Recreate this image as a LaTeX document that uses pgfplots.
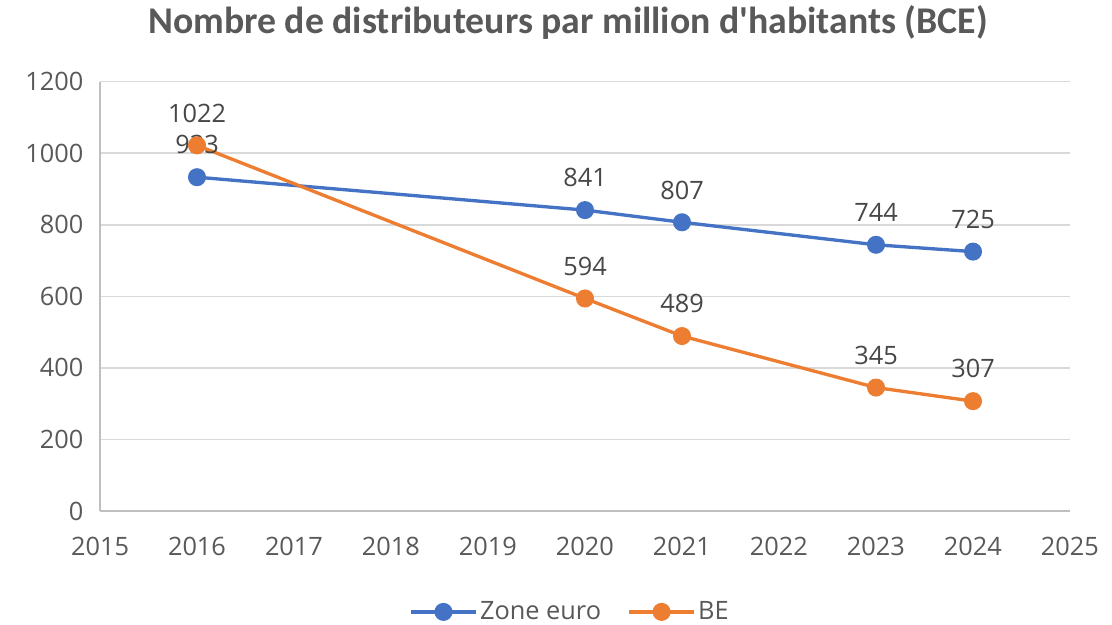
\documentclass[border=0pt]{standalone}
\usepackage{fontspec}
\setmainfont{Open Sans}
\newfontfamily\titlefont{Carlito}
\usepackage{pgfplots}
\pgfplotsset{compat=1.18}
\definecolor{zblue}{HTML}{4472C4}
\definecolor{zorange}{HTML}{ED7D31}
\definecolor{txtgray}{HTML}{595959}
\definecolor{gridgray}{HTML}{D9D9D9}
\definecolor{axgray}{HTML}{BFBFBF}

\begin{document}
\begin{tikzpicture}
\path[use as bounding box, fill=white] (0,0) rectangle (834pt,468pt);
\begin{axis}[
  at={(75pt,84.75pt)}, anchor=south west,
  scale only axis, width=727.5pt, height=322pt,
  xmin=2015, xmax=2025, ymin=0, ymax=1200,
  xtick={2015,...,2025}, ytick={0,200,...,1200},
  /pgf/number format/assume math mode=true,
  xticklabel style={/pgf/number format/1000 sep={}},
  yticklabel style={/pgf/number format/1000 sep={}},
  tick label style={font=\fontsize{19}{21}\selectfont, text=txtgray},
  major tick length=0pt,
  xticklabel shift=16pt, yticklabel shift=9pt,
  axis lines=left,
  axis line style={draw=axgray, line width=1.2pt, -},
  ymajorgrids, grid style={draw=gridgray, line width=1.2pt},
  legend columns=2,
  legend style={at={(0.485,-0.235)}, anchor=center, draw=none,
    font=\fontsize{19}{21}\selectfont, text=txtgray,
    /tikz/every even column/.append style={column sep=18pt}},
  legend image code/.code={
    \draw[#1, mark=none] (0cm,0cm) -- (1.7cm,0cm);
    \draw[#1, only marks] plot coordinates {(0.85cm,0cm)};
  },
  nodes near coords,
  every node near coord/.append style={anchor=south, inner sep=0pt, yshift=16pt,
    font=\fontsize{19}{21}\selectfont, text=txtgray!80!black},
  nodes near coords style={/pgf/number format/1000 sep={}},
]
\addplot[zblue, line width=2.5pt, mark=*, mark size=5.5pt, mark options={solid}]
  coordinates {(2016,933)(2020,841)(2021,807)(2023,744)(2024,725)};
\addlegendentry{Zone euro}
\addplot[zorange, line width=2.5pt, mark=*, mark size=5.5pt, mark options={solid}]
  coordinates {(2016,1022)(2020,594)(2021,489)(2023,345)(2024,307)};
\addlegendentry{BE}
\end{axis}
\node[font=\titlefont\bfseries\fontsize{28.3}{32}\selectfont, text=txtgray] at (426pt,451pt) {Nombre de distributeurs par million d'habitants (BCE)};
\end{tikzpicture}
\end{document}
